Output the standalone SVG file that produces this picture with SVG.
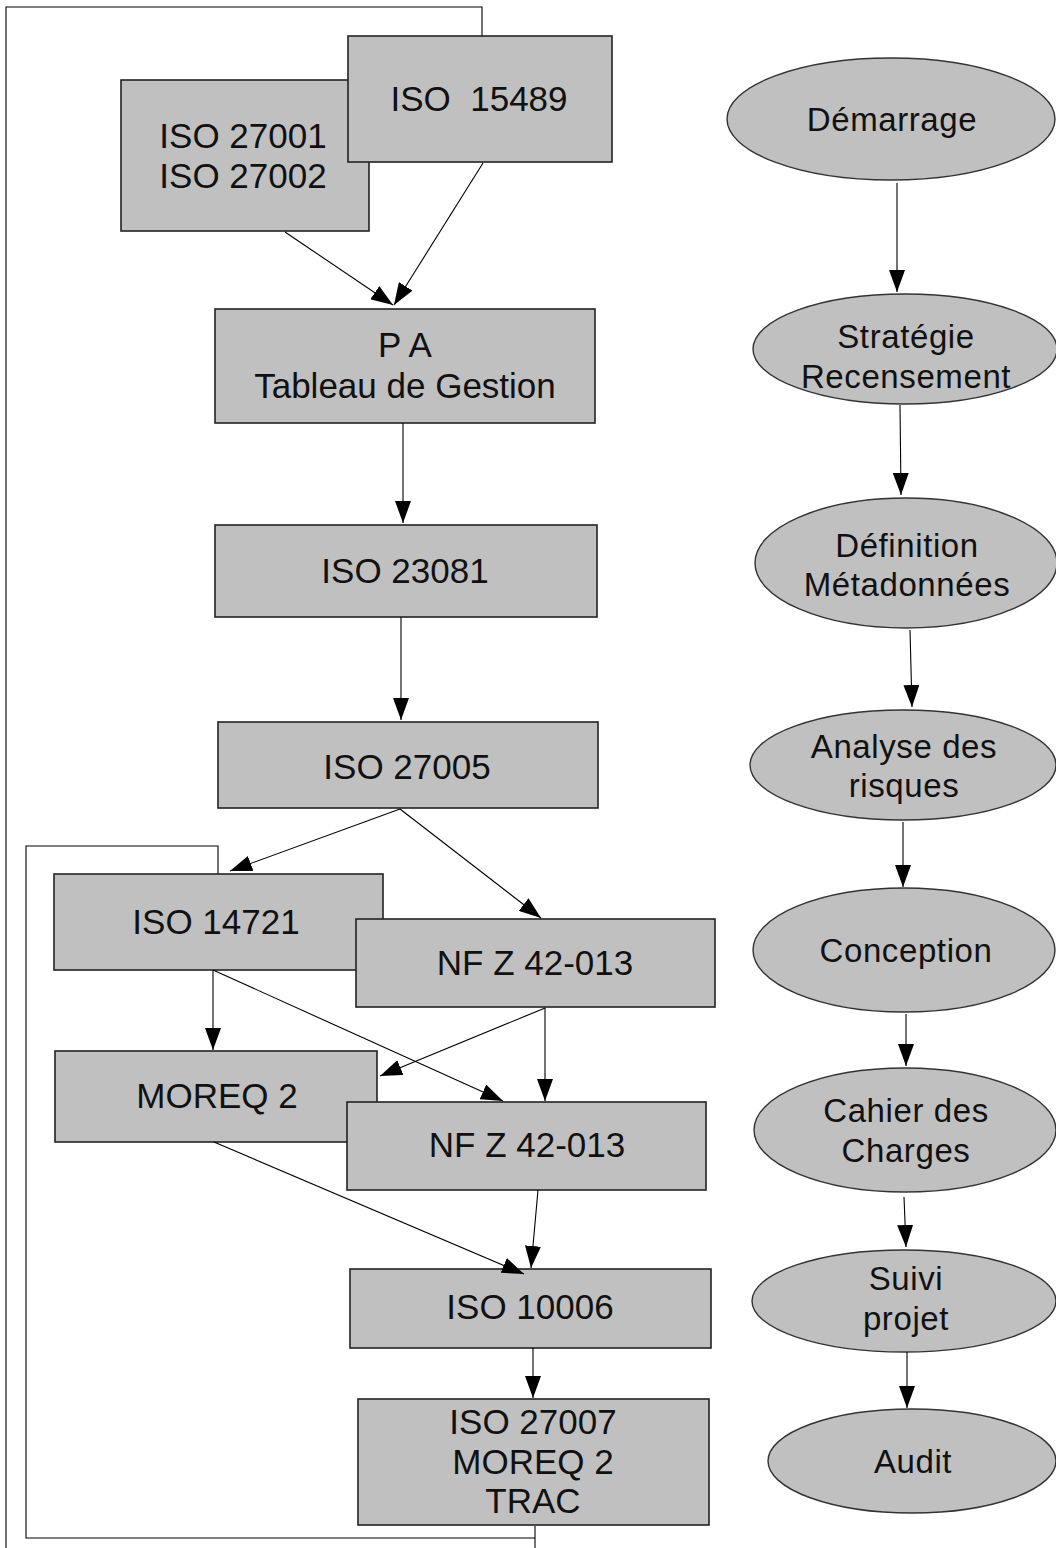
<svg xmlns="http://www.w3.org/2000/svg" width="1056" height="1548" viewBox="0 0 1056 1548">
<defs>
<marker id="ah" markerUnits="userSpaceOnUse" markerWidth="22" markerHeight="16" refX="22" refY="8" orient="auto">
<path d="M0,0 L22,8 L0,16 z" fill="#000"/>
</marker>
<style>
.box{fill:#c0c0c0;stroke:#222;stroke-width:1.6}
.ell{fill:#c0c0c0;stroke:#333;stroke-width:1.4}
.bt{font-family:"Liberation Sans",Arial,sans-serif;font-size:35px;fill:#111;text-anchor:middle}
.et{font-family:"Liberation Sans",Arial,sans-serif;font-size:33px;fill:#111;text-anchor:middle;letter-spacing:0.6px}
.c{stroke:#000;stroke-width:1.1;fill:none}
.a{stroke:#000;stroke-width:1.1;fill:none;marker-end:url(#ah)}
</style>
</defs>
<rect width="1056" height="1548" fill="#fff"/>

<g id="frames">
<polyline class="c" points="6,1548 6,7 482,7 482,36"/>
<polyline class="c" points="218,874 218,846 26,846 26,1538 535,1538"/>
<line class="c" x1="535" y1="1526" x2="535" y2="1548"/>
</g>

<g id="n-iso27001">
<rect class="box" x="121" y="80" width="248" height="151"/>
<text class="bt" x="243" y="148">ISO 27001</text>
<text class="bt" x="243" y="188">ISO 27002</text>
</g>
<g id="n-iso15489">
<rect class="box" x="348" y="36" width="264" height="126"/>
<text class="bt" x="479" y="111" xml:space="preserve">ISO  15489</text>
</g>
<g id="n-pa">
<rect class="box" x="215" y="309" width="380" height="114"/>
<text class="bt" x="405" y="357">P A</text>
<text class="bt" x="405" y="398">Tableau de Gestion</text>
</g>
<g id="n-iso23081">
<rect class="box" x="215" y="525" width="382" height="92"/>
<text class="bt" x="405" y="583">ISO 23081</text>
</g>
<g id="n-iso27005">
<rect class="box" x="218" y="722" width="380" height="86"/>
<text class="bt" x="407" y="779">ISO 27005</text>
</g>
<g id="n-iso14721">
<rect class="box" x="54" y="874" width="329" height="96"/>
<text class="bt" x="216" y="934">ISO 14721</text>
</g>
<g id="n-nfz1">
<rect class="box" x="356" y="919" width="359" height="88"/>
<text class="bt" x="535" y="975">NF Z 42-013</text>
</g>
<g id="n-moreq2">
<rect class="box" x="55" y="1051" width="322" height="91"/>
<text class="bt" x="217" y="1108">MOREQ 2</text>
</g>
<g id="n-nfz2">
<rect class="box" x="347" y="1102" width="359" height="88"/>
<text class="bt" x="527" y="1157">NF Z 42-013</text>
</g>
<g id="n-iso10006">
<rect class="box" x="350" y="1269" width="361" height="79"/>
<text class="bt" x="530" y="1319">ISO 10006</text>
</g>
<g id="n-iso27007">
<rect class="box" x="358" y="1399" width="351" height="126"/>
<text class="bt" x="533" y="1434">ISO 27007</text>
<text class="bt" x="533" y="1474">MOREQ 2</text>
<text class="bt" x="533" y="1513">TRAC</text>
</g>

<g id="e-demarrage">
<ellipse class="ell" cx="891" cy="119" rx="164" ry="61"/>
<text class="et" x="892" y="131">Démarrage</text>
</g>
<g id="e-strategie">
<ellipse class="ell" cx="905" cy="349" rx="152" ry="55"/>
<text class="et" x="906" y="348">Stratégie</text>
<text class="et" x="906" y="388">Recensement</text>
</g>
<g id="e-definition">
<ellipse class="ell" cx="906" cy="563" rx="151" ry="65"/>
<text class="et" x="907" y="557">Définition</text>
<text class="et" x="907" y="596">Métadonnées</text>
</g>
<g id="e-analyse">
<ellipse class="ell" cx="903" cy="765" rx="153" ry="55"/>
<text class="et" x="904" y="758">Analyse des</text>
<text class="et" x="904" y="797">risques</text>
</g>
<g id="e-conception">
<ellipse class="ell" cx="904" cy="950" rx="151" ry="62"/>
<text class="et" x="906" y="962">Conception</text>
</g>
<g id="e-cahier">
<ellipse class="ell" cx="905" cy="1130" rx="151" ry="62"/>
<text class="et" x="906" y="1122">Cahier des</text>
<text class="et" x="906" y="1162">Charges</text>
</g>
<g id="e-suivi">
<ellipse class="ell" cx="904" cy="1301" rx="152" ry="51"/>
<text class="et" x="906" y="1290">Suivi</text>
<text class="et" x="906" y="1330">projet</text>
</g>
<g id="e-audit">
<ellipse class="ell" cx="912" cy="1461" rx="144" ry="52"/>
<text class="et" x="913" y="1473">Audit</text>
</g>

<g id="connectors">
<line class="a" x1="285" y1="232" x2="393" y2="305"/>
<line class="a" x1="483" y1="163" x2="394" y2="305"/>
<line class="a" x1="403" y1="423" x2="403" y2="523"/>
<line class="a" x1="401" y1="617" x2="401" y2="720"/>
<line class="a" x1="400" y1="809" x2="230" y2="871"/>
<line class="a" x1="400" y1="809" x2="541" y2="918"/>
<line class="a" x1="213" y1="970" x2="213" y2="1050"/>
<line class="a" x1="213" y1="970" x2="503" y2="1101"/>
<line class="a" x1="545" y1="1008" x2="380" y2="1076"/>
<line class="a" x1="545" y1="1008" x2="545" y2="1101"/>
<line class="a" x1="214" y1="1142" x2="524" y2="1274"/>
<line class="a" x1="538" y1="1190" x2="531" y2="1268"/>
<line class="a" x1="533" y1="1348" x2="533" y2="1398"/>
<line class="a" x1="897" y1="183" x2="897" y2="292"/>
<line class="a" x1="900" y1="405" x2="901" y2="495"/>
<line class="a" x1="910" y1="630" x2="912" y2="707"/>
<line class="a" x1="903" y1="822" x2="903" y2="887"/>
<line class="a" x1="906" y1="1014" x2="906" y2="1066"/>
<line class="a" x1="904" y1="1197" x2="906" y2="1247"/>
<line class="a" x1="907" y1="1352" x2="907" y2="1408"/>
</g>
</svg>
